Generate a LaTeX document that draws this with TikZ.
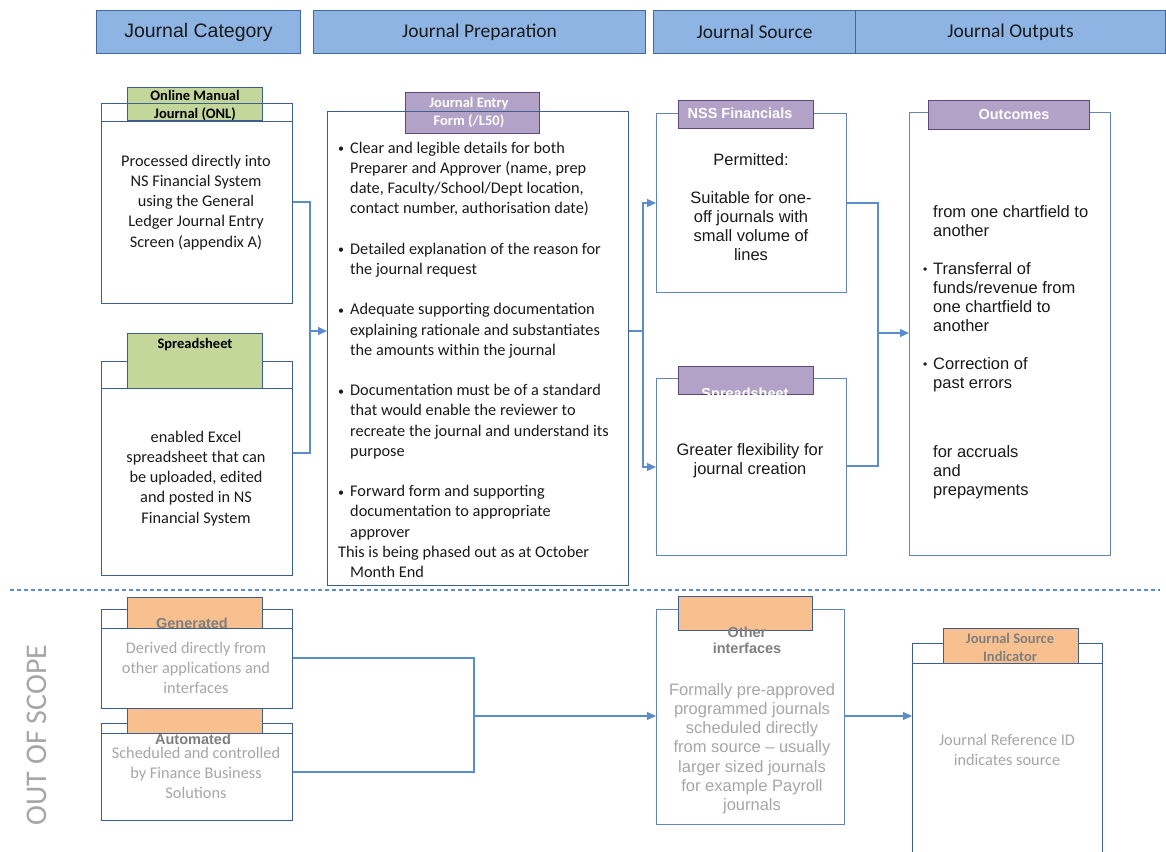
\documentclass[tikz,border=0pt]{standalone}
\usepackage{fontspec}
\setmainfont{Carlito}
\newfontfamily\arialf{Liberation Sans}
\usetikzlibrary{arrows.meta}
\definecolor{hdrfill}{HTML}{8EB4E3}
\definecolor{hdrdraw}{HTML}{41699B}
\definecolor{boxd}{HTML}{3E5F8E}
\definecolor{boxl}{HTML}{6584B6}
\definecolor{tabgreen}{HTML}{C4D79B}
\definecolor{tabpurple}{HTML}{B3A2C7}
\definecolor{purpdraw}{HTML}{5F497A}
\definecolor{taborange}{HTML}{F9C08F}
\definecolor{conncol}{HTML}{5B8CCB}
\definecolor{lgray}{HTML}{A6A6A6}
\definecolor{mgray}{HTML}{7F7F7F}
\definecolor{txt}{HTML}{1A1A1A}
\newcommand\tfx[1]{\rule{0pt}{#1pt}}
\newcommand\jbul{\makebox[12pt][l]{\raisebox{0.5pt}{\fontsize{12}{12}\selectfont\textbullet}}}
\newcommand\jind{\hspace*{12pt}}
\newcommand\obul{\makebox[10pt][l]{\raisebox{0.5pt}{\fontsize{12}{12}\selectfont\textbullet}}}
\newcommand\oind{\hspace*{10pt}}
\begin{document}
\begin{tikzpicture}[x=1pt,y=-1pt,
  hdr/.style={draw=hdrdraw, fill=hdrfill, line width=1pt, minimum height=43pt, anchor=north west, inner sep=0pt, text=txt, font=\fontsize{19.5}{22}\selectfont},
  bxd/.style={draw=boxd, line width=1.1pt, anchor=north west, inner sep=0pt},
  bxl/.style={draw=boxl, line width=1.2pt, anchor=north west, inner sep=0pt},
  tabg/.style={draw=boxd, fill=tabgreen, line width=1pt, anchor=north west, inner sep=0pt},
  tabp/.style={draw=purpdraw, fill=tabpurple, line width=1pt, anchor=north west, inner sep=0pt},
  tabo/.style={draw=boxd, fill=taborange, line width=1pt, anchor=north west, inner sep=0pt},
  body/.style={inner sep=0pt, anchor=north, align=center, text=txt, font=\fontsize{16.3}{20.2}\selectfont},
  bodya/.style={inner sep=0pt, anchor=north, align=center, text=txt, font=\arialf\fontsize{16.5}{19}\selectfont},
  tabt/.style={inner sep=0pt, anchor=north, align=center, font=\bfseries\fontsize{14.5}{18.5}\selectfont},
  tabta/.style={inner sep=0pt, anchor=north, align=center, font=\arialf\bfseries\fontsize{14.5}{16.5}\selectfont},
  conn/.style={draw=conncol, line width=1.3pt},
  arr/.style={conn, -{Triangle[length=9pt,width=8pt]}}
]
\fill[white] (0,0) rectangle (1166,851);
\clip (0,0) rectangle (1166,851);

% headers
\node[hdr, minimum width=204pt, font=\arialf\fontsize{19.5}{22}\selectfont] (hcat) at (96,10) {Journal Category};
\node[hdr, minimum width=332pt] (hprep) at (313,10) {Journal Preparation};
\node[hdr, minimum width=202pt] (hsrc) at (653,10) {Journal Source};
\node[hdr, minimum width=310pt] (hout) at (855,10) {Journal Outputs};

% ONL
\node[tabg, minimum width=135pt, minimum height=33pt] (onltab) at (127,87) {};
\node[bxd, minimum width=191pt, minimum height=18pt] (onlh) at (101,103) {};
\node[bxd, minimum width=191pt, minimum height=182pt] (onl) at (101,121) {};
\node[tabt] (onltt) at (195,88) {\tfx{12}Online Manual\\Journal (ONL)};
\node[body] (onlt) at (196,152) {\tfx{14}Processed directly into\\NS Financial System\\using the General\\Ledger Journal Entry\\Screen (appendix A)};

% Spreadsheet left
\node[bxd, minimum width=191pt, minimum height=27pt] (sslh) at (101,361) {};
\node[bxd, minimum width=191pt, minimum height=187pt] (ssl) at (101,388) {};
\node[tabg, minimum width=135pt, minimum height=55pt] (ssltab) at (127,333) {};
\node[tabt] (ssltt) at (195,336) {\tfx{12}Spreadsheet};
\node[body] (sslt) at (196,428) {\tfx{14}enabled Excel\\spreadsheet that can\\be uploaded, edited\\and posted in NS\\Financial System};

% Journal Entry Form
\node[tabp, minimum width=134pt, minimum height=41pt] (jeftab) at (405,92) {};
\node[bxd, minimum width=301pt, minimum height=474pt] (jef) at (327,111) {};
\node[tabt, text=white] (jeftt) at (469,95) {\tfx{12}Journal Entry\\Form (/L50)};
\node[inner sep=0pt, anchor=north west, align=left, text=txt, font=\fontsize{16.3}{20.2}\selectfont] (jeft) at (338,139) {%
\tfx{14}\jbul Clear and legible details for both\\
\jind Preparer and Approver (name, prep\\
\jind date, Faculty/School/Dept location,\\
\jind contact number, authorisation date)\\
~\\
\jbul Detailed explanation of the reason for\\
\jind the journal request\\
~\\
\jbul Adequate supporting documentation\\
\jind explaining rationale and substantiates\\
\jind the amounts within the journal\\
~\\
\jbul Documentation must be of a standard\\
\jind that would enable the reviewer to\\
\jind recreate the journal and understand its\\
\jind purpose\\
~\\
\jbul Forward form and supporting\\
\jind documentation to appropriate\\
\jind approver\\
This is being phased out as at October\\
\jind Month End};

% NSS Financials
\node[bxl, minimum width=190pt, minimum height=179pt] (nss) at (656,113) {};
\node[tabp, minimum width=135pt, minimum height=28pt] (nsstab) at (678,100) {};
\node[tabta, text=white] (nsstt) at (740,106) {\tfx{12}NSS Financials};
\node[bodya] (nsst) at (751,151) {\tfx{14}Permitted:\\~\\Suitable for one-\\off journals with\\small volume of\\lines};

% Spreadsheet middle
\node[bxl, minimum width=190pt, minimum height=177pt] (ssm) at (656,378) {};
\node[tabp, minimum width=135pt, minimum height=28pt] (ssmtab) at (678,366) {};
\node[tabta, text=white] (ssmtt) at (745,386) {\tfx{12}Spreadsheet};
\node[bodya] (ssmt) at (750,441) {\tfx{14}Greater flexibility for\\journal creation};

% Outcomes
\node[bxl, minimum width=201pt, minimum height=443pt] (out) at (909,112) {};
\node[tabp, minimum width=161pt, minimum height=29pt] (outtab) at (928,100) {};
\node[tabta, text=white] (outtt) at (1014,107) {\tfx{12}Outcomes};
\node[inner sep=0pt, anchor=north west, align=left, text=txt, font=\arialf\fontsize{16.5}{19}\selectfont] (outt1) at (923,203) {%
\tfx{14}\oind from one chartfield to\\
\oind another\\
~\\
\obul Transferral of\\
\oind funds/revenue from\\
\oind one chartfield to\\
\oind another\\
~\\
\obul Correction of\\
\oind past errors};
\node[inner sep=0pt, anchor=north west, align=left, text=txt, font=\arialf\fontsize{16.5}{19}\selectfont] (outt2) at (933,443) {%
\tfx{14}for accruals\\and\\prepayments};

% connectors top
\coordinate (j1) at (310,331);
\coordinate (j2) at (643,331);
\coordinate (j3) at (878,333);
\draw[conn] (onl.east |- 0,202) -| (j1);
\draw[conn] (ssl.east |- 0,453) -| (j1);
\draw[arr] (j1) -- (jef.west |- j1);
\draw[conn] (jef.east |- j2) -- (j2);
\draw[arr] (j2) |- (nss.west |- 0,203);
\draw[arr] (j2) |- (ssm.west |- 0,467);
\draw[conn] (nss.east |- 0,203) -| (j3);
\draw[conn] (ssm.east |- 0,466) -| (j3);
\draw[arr] (j3) -- (out.west |- j3);

% dashed divider
\coordinate (dl) at (10,590);
\coordinate (dr) at (1160,590);
\draw[conncol, line width=1.1pt, dash pattern=on 4pt off 3pt] (dl) -- (dr);

% out of scope
\node[rotate=90, inner sep=0pt, text=lgray, font=\fontsize{30}{30}\selectfont] (oos) at (37,735) {OUT OF SCOPE};

% Generated
\node[bxd, minimum width=191pt, minimum height=19pt] (genh) at (101,609) {};
\node[bxd, minimum width=191pt, minimum height=80pt] (gen) at (101,628) {};
\node[tabo, minimum width=135pt, minimum height=31pt] (gentab) at (127,597) {};
\node[tabta, text=mgray] (gentt) at (192,616) {\tfx{12}Generated};
\node[body, text=lgray] (gent) at (196,639) {\tfx{14}Derived directly from\\other applications and\\interfaces};

% Automated
\node[bxd, minimum width=191pt, minimum height=10pt] (auth) at (101,723) {};
\node[bxd, minimum width=191pt, minimum height=87pt] (aut) at (101,733) {};
\node[tabo, minimum width=135pt, minimum height=25pt] (auttab) at (127,708) {};
\node[tabta, text=mgray] (auttt) at (193,732) {\tfx{12}Automated};
\node[body, text=lgray] (autt) at (196,744) {\tfx{14}Scheduled and controlled\\by Finance Business\\Solutions};

% Other interfaces
\node[bxl, minimum width=188pt, minimum height=215pt] (oth) at (656,609) {};
\node[tabo, minimum width=134pt, minimum height=34pt] (othtab) at (678,596) {};
\node[tabta, text=mgray] (othtt) at (747,625) {\tfx{12}Other\\interfaces};
\node[bodya, text=lgray, font=\arialf\fontsize{16.5}{19.2}\selectfont] (otht) at (752,681) {\tfx{14}Formally pre-approved\\programmed journals\\scheduled directly\\from source – usually\\larger sized journals\\for example Payroll\\journals};

% Journal Source Indicator
\node[bxd, minimum width=190pt, minimum height=20pt] (jsih) at (912,643) {};
\node[bxd, minimum width=190pt, minimum height=220pt] (jsi) at (912,663) {};
\node[tabo, minimum width=135pt, minimum height=35pt] (jsitab) at (943,628) {};
\node[tabt, text=mgray] (jsitt) at (1010,631) {\tfx{12}Journal Source\\Indicator};
\node[body, text=lgray] (jsit) at (1007,731) {\tfx{14}Journal Reference ID\\indicates source};

% connectors bottom
\coordinate (j4) at (474,716);
\draw[conn] (gen.east |- 0,658) -| (j4);
\draw[conn] (aut.east |- 0,772) -| (j4);
\draw[arr] (j4) -- (oth.west |- j4);
\draw[arr] (oth.east |- 0,716) -- (jsi.west |- 0,716);
\end{tikzpicture}
\end{document}
